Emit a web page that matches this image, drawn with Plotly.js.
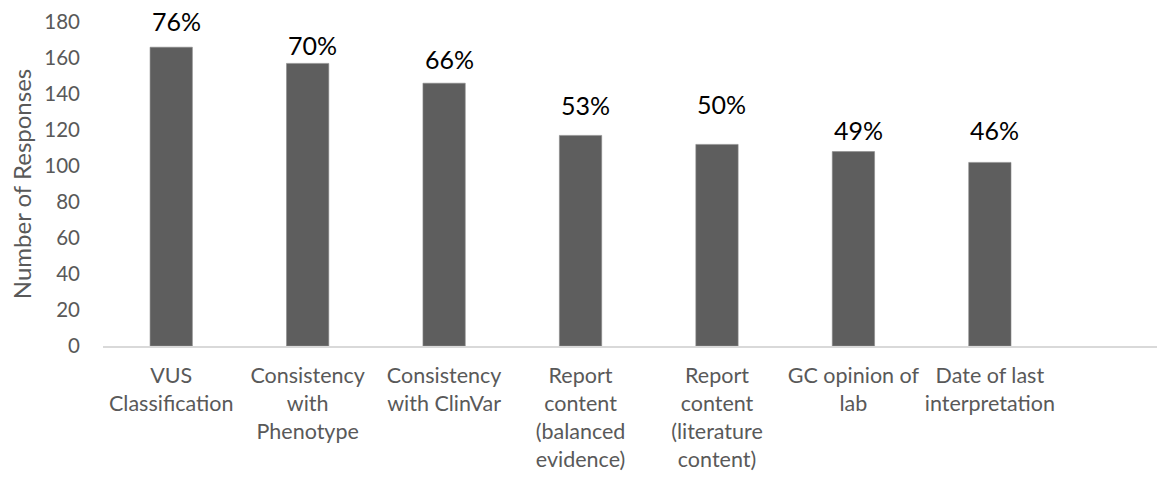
<!DOCTYPE html>
<html>
<head>
<meta charset="utf-8">
<script src="https://cdn.plot.ly/plotly-3.0.1.min.js"></script>
<style>
  html, body { margin: 0; padding: 0; background: #ffffff; }
  #chart { width: 1158px; height: 483px; }
</style>
</head>
<body>
<div id="chart"></div>
<script>
// ---- data ----
const categories = [
  "VUS<br>Classification",
  "Consistency<br>with<br>Phenotype",
  "Consistency<br>with ClinVar",
  "Report<br>content<br>(balanced<br>evidence)",
  "Report<br>content<br>(literature<br>content)",
  "GC opinion of<br>lab",
  "Date of last<br>interpretation"
];
const responses = [166, 157, 146, 117, 112, 108, 102];
const percentLabels = ["76%", "70%", "66%", "53%", "50%", "49%", "46%"];
const yTickValues = [0, 20, 40, 60, 80, 100, 120, 140, 160, 180];

// ---- layout / style ----
const labelGap = [26, 18.5, 24, 30, 40, 21.5, 32]; // manual label placement above bar tops (px)
const FONT = 'Lato, Carlito, Calibri, sans-serif';

const trace = {
  type: 'bar',
  x: categories,
  y: responses,
  width: 0.31,
  marker: { color: '#5e5e5e', line: { color: '#8a8a8a', width: 0.6 } },
  hoverinfo: 'x+y'
};

const annotations = categories.map((c, i) => ({
  x: c,
  y: responses[i],
  xref: 'x',
  yref: 'y',
  text: percentLabels[i],
  showarrow: false,
  yanchor: 'middle',
  xanchor: 'center',
  yshift: labelGap[i],
  xshift: 5,
  font: { family: FONT, size: 25, color: '#000000' }
}));

const layout = {
  width: 1158,
  height: 483,
  margin: { l: 103, r: 1, t: 22, b: 137 },
  paper_bgcolor: '#ffffff',
  plot_bgcolor: '#ffffff',
  showlegend: false,
  xaxis: {
    type: 'category',
    range: [-0.5, 7.225],
    showgrid: false,
    zeroline: false,
    showline: true,
    linecolor: '#d9d9d9',
    linewidth: 1.5,
    ticks: '',
    tickangle: 0,
    ticklabelstandoff: 10,
    tickfont: { family: FONT, size: 21.5, color: '#595959' },
    fixedrange: true
  },
  yaxis: {
    range: [0, 180],
    tickmode: 'array',
    tickvals: yTickValues,
    ticktext: yTickValues.map(String),
    showgrid: false,
    zeroline: false,
    showline: false,
    ticks: '',
    ticklabelstandoff: 22,
    tickfont: { family: FONT, size: 20.5, color: '#595959' },
    title: {
      text: 'Number of Responses',
      standoff: 5,
      font: { family: FONT, size: 24, color: '#595959' }
    },
    fixedrange: true
  },
  annotations: annotations
};

Plotly.newPlot('chart', [trace], layout, { displayModeBar: false, staticPlot: true });
</script>
</body>
</html>
